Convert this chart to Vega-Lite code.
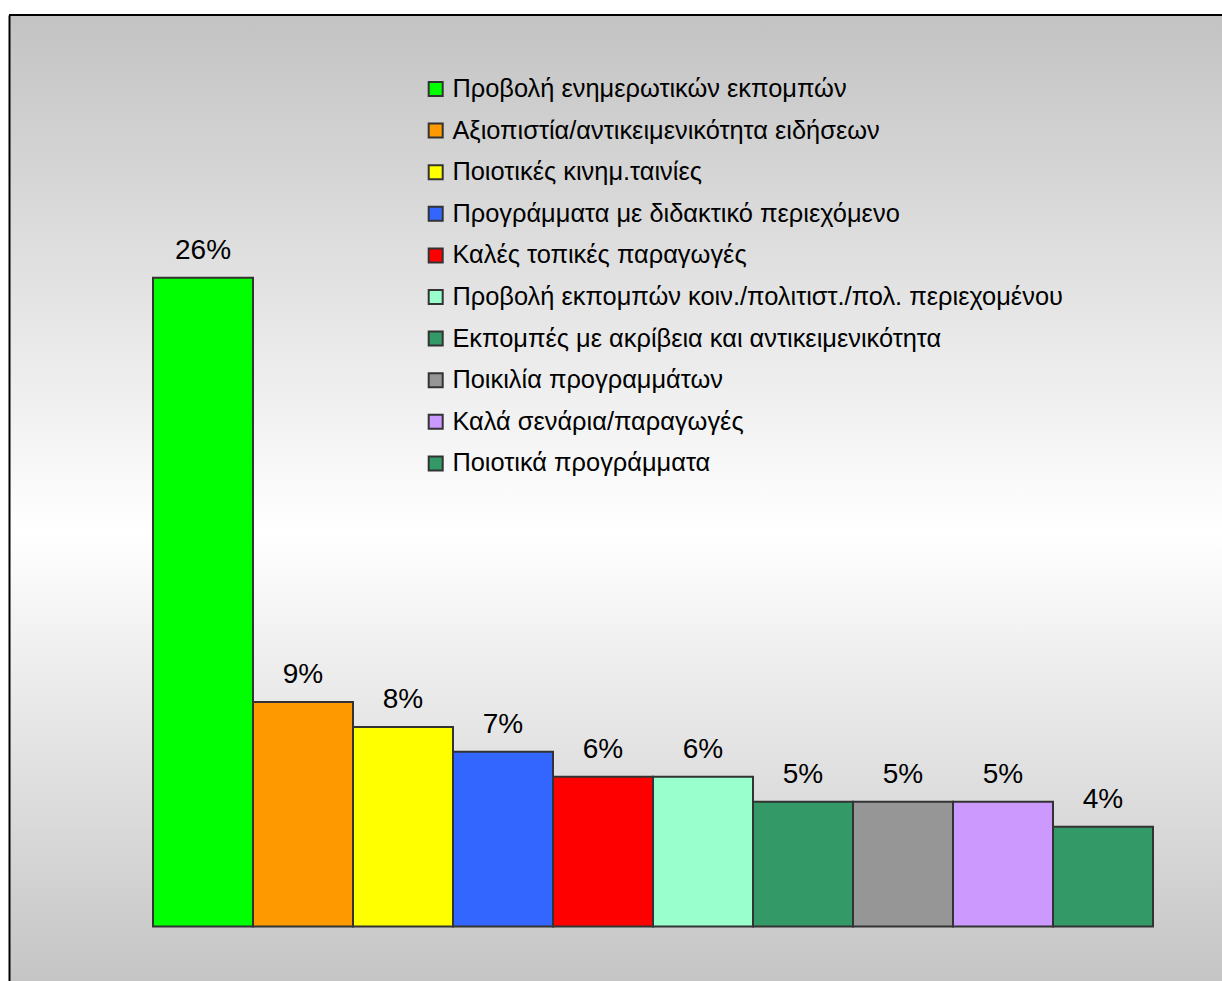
{
  "$schema": "https://vega.github.io/schema/vega-lite/v6.json",
  "autosize": {"type": "none"},
  "padding": {"left": 9, "top": 15, "right": 0, "bottom": 0},
  "width": 1213,
  "height": 966,
  "background": "#ffffff",
  "data": {
    "values": [
      {"cat": "Προβολή ενημερωτικών εκπομπών", "v": 0.26},
      {"cat": "Αξιοπιστία/αντικειμενικότητα ειδήσεων", "v": 0.09},
      {"cat": "Ποιοτικές κινημ.ταινίες", "v": 0.08},
      {"cat": "Προγράμματα με διδακτικό περιεχόμενο", "v": 0.07},
      {"cat": "Καλές τοπικές παραγωγές", "v": 0.06},
      {"cat": "Προβολή εκπομπών κοιν./πολιτιστ./πολ. περιεχομένου", "v": 0.06},
      {"cat": "Εκπομπές με ακρίβεια και αντικειμενικότητα", "v": 0.05},
      {"cat": "Ποικιλία προγραμμάτων", "v": 0.05},
      {"cat": "Καλά σενάρια/παραγωγές", "v": 0.05},
      {"cat": "Ποιοτικά προγράμματα", "v": 0.04}
    ]
  },
  "layer": [
    {
      "mark": {"type": "rule", "color": "#000000", "strokeWidth": 2},
      "encoding": {
        "y": {"datum": 0.3653, "type": "quantitative", "scale": {"domain": [-0.02184, 0.3653], "nice": false, "zero": false}}
      }
    },
    {
      "mark": {"type": "bar", "stroke": "#333333", "strokeWidth": 2, "opacity": 1},
      "encoding": {
        "x": {
          "field": "cat",
          "type": "nominal",
          "sort": null,
          "scale": {"range": [144, 1144], "paddingInner": 0, "paddingOuter": 0},
          "axis": null
        },
        "y": {
          "field": "v",
          "type": "quantitative",
          "scale": {"domain": [-0.02184, 0.3653], "nice": false, "zero": false},
          "axis": {"domain": true, "domainColor": "#000000", "domainWidth": 2, "labels": false, "ticks": false, "title": null, "grid": false}
        },
        "y2": {"datum": 0},
        "color": {
          "field": "cat",
          "type": "nominal",
          "sort": null,
          "scale": {
            "domain": [
              "Προβολή ενημερωτικών εκπομπών",
              "Αξιοπιστία/αντικειμενικότητα ειδήσεων",
              "Ποιοτικές κινημ.ταινίες",
              "Προγράμματα με διδακτικό περιεχόμενο",
              "Καλές τοπικές παραγωγές",
              "Προβολή εκπομπών κοιν./πολιτιστ./πολ. περιεχομένου",
              "Εκπομπές με ακρίβεια και αντικειμενικότητα",
              "Ποικιλία προγραμμάτων",
              "Καλά σενάρια/παραγωγές",
              "Ποιοτικά προγράμματα"
            ],
            "range": ["#00ff00", "#ff9900", "#ffff00", "#3366ff", "#ff0000", "#99ffcc", "#339966", "#969696", "#cc99ff", "#339966"]
          },
          "legend": {
            "orient": "none",
            "legendX": 414,
            "legendY": 61.3,
            "title": null,
            "padding": 0,
            "symbolType": "square",
            "symbolSize": 196,
            "symbolStrokeColor": "#333333",
            "symbolStrokeWidth": 2,
            "symbolOpacity": 1,
            "labelFont": "Liberation Sans",
            "labelFontSize": 25.4,
            "labelColor": "#000000",
            "labelOffset": 4,
            "labelLimit": 0,
            "rowPadding": 14.6
          }
        }
      }
    },
    {
      "mark": {"type": "text", "font": "Liberation Sans", "fontSize": 28, "color": "#000000", "baseline": "alphabetic", "dy": -19},
      "encoding": {
        "x": {"field": "cat", "type": "nominal", "sort": null},
        "y": {"field": "v", "type": "quantitative"},
        "text": {"field": "v", "type": "quantitative", "format": ".0%"}
      }
    }
  ],
  "config": {
    "view": {
      "stroke": null,
      "fill": {
        "gradient": "linear",
        "x1": 0, "y1": 0, "x2": 0, "y2": 1,
        "stops": [
          {"offset": 0, "color": "#c3c3c3"},
          {"offset": 0.534, "color": "#ffffff"},
          {"offset": 1, "color": "#c5c5c5"}
        ]
      }
    }
  }
}
